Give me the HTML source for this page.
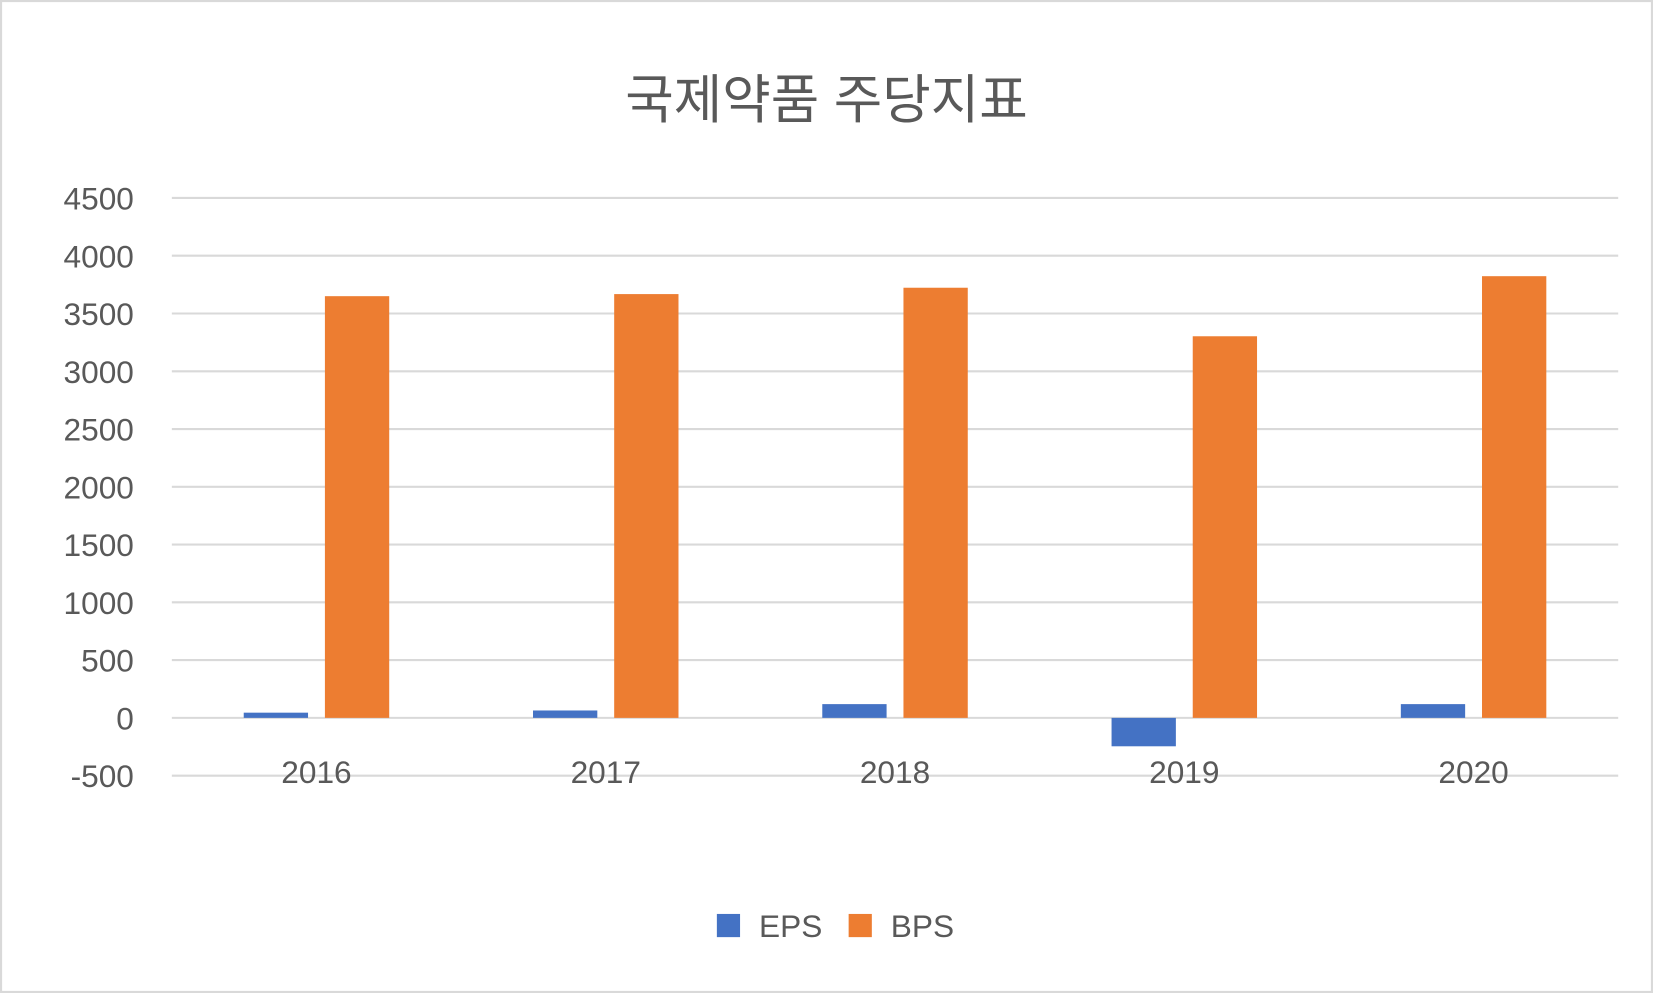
<!DOCTYPE html>
<html><head><meta charset="utf-8"><style>
html,body{margin:0;padding:0;background:#fff;}
svg{display:block;}
text{font-family:"Liberation Sans","Noto Sans CJK KR",sans-serif;fill:#595959;}
</style></head><body>
<svg id="chart" width="1653" height="993" viewBox="0 0 1568 942" preserveAspectRatio="none" xmlns="http://www.w3.org/2000/svg">
<rect x="1" y="1" width="1566" height="940" fill="#fff" stroke="#d9d9d9" stroke-width="2"/>
<text x="784" y="112" font-size="50" text-anchor="middle">국제약품 주당지표</text>
<g id="grid"></g><g id="bars"></g><g id="labels"></g>
<g>
<rect x="680" y="867" width="22" height="22" fill="#4472c4"/>
<text x="720" y="889" font-size="30">EPS</text>
<rect x="805" y="867" width="22" height="22" fill="#ed7d31"/>
<text x="845" y="889" font-size="30">BPS</text>
</g>
</svg>
<script>
const categories=["2016","2017","2018","2019","2020"];
const eps=[45,64,119,-246,119];
const bps=[3650,3668,3723,3303,3823];
const ticks=[-500,0,500,1000,1500,2000,2500,3000,3500,4000,4500];
const NS="http://www.w3.org/2000/svg";
const x0=163,x1=1535,y0=681,pxPer=54.8/500;
const y=v=>y0-v*pxPer;
const cw=(x1-x0)/categories.length;
function mk(t,a,p){const e=document.createElementNS(NS,t);for(const k in a)e.setAttribute(k,a[k]);p.appendChild(e);return e;}
const grid=document.getElementById('grid'),bars=document.getElementById('bars'),labels=document.getElementById('labels');
ticks.forEach(t=>{
 const l=mk('line',{x1:x0,x2:x1,y1:y(t),y2:y(t),stroke:'#d9d9d9','stroke-width':2},grid);
 
 
 const tx=mk('text',{x:127,y:y(t)+11,'font-size':30,'text-anchor':'end'},labels);
 tx.textContent=t;
 
 
});
categories.forEach((c,i)=>{
 const cx=x0+cw*(i+0.5),bw=61;
 const e=eps[i];
 const r1=mk('rect',{x:cx-69,y:Math.min(y(e),y0),width:bw,height:Math.abs(y(e)-y0),fill:'#4472c4'},bars);
 
 
 const b=bps[i];
 const r2=mk('rect',{x:cx+8,y:y(b),width:bw,height:y0-y(b),fill:'#ed7d31'},bars);
 
 
 const tx=mk('text',{x:cx,y:743,'font-size':30,'text-anchor':'middle'},labels);
 tx.textContent=c;
 
 
});
</script>
</body></html>
